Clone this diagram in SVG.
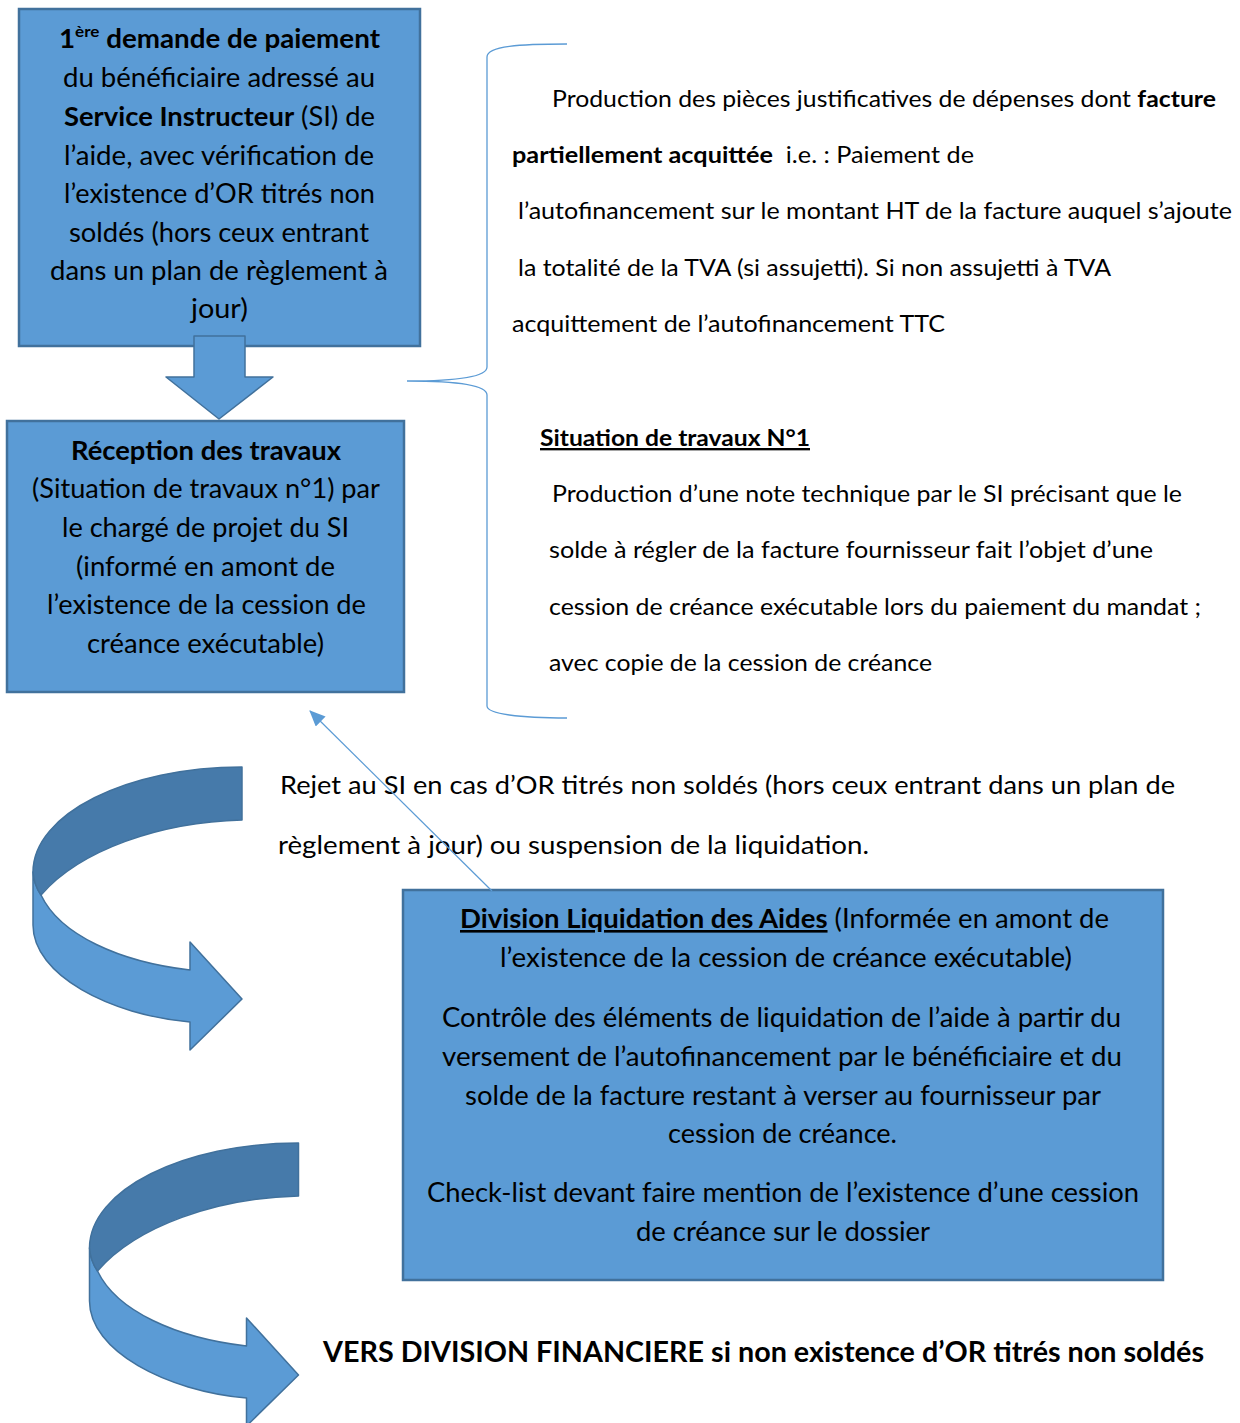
<svg xmlns="http://www.w3.org/2000/svg" xmlns:xlink="http://www.w3.org/1999/xlink" width="1240" height="1423" viewBox="0 0 1240 1423">
<style>
text{font-family:Lato,"Liberation Sans",sans-serif;fill:#000}
.box{fill:#5B9BD5;stroke:#41719C;stroke-width:2.5}
.bt{font-size:26px}
.rt{font-size:23.5px}
.jt{font-size:25.5px}
.ft{font-size:28px}
.b{font-weight:bold}
.u{text-decoration:underline}
.light{fill:#5B9BD5;stroke:#41719C;stroke-width:1.5;stroke-linejoin:round}
.dark{fill:#467AAA;stroke:#41719C;stroke-width:1.5;stroke-linejoin:round}
.thin{fill:none;stroke:#5B9BD5;stroke-width:1.3}
</style>
<defs>
<g id="curvedArrow">
<path class="light" d="M33,872 L33,925 C33,975 110,1015 190,1022 L190,1050 L242,999 L190,942 L190,970 C120,962 60,935 41,895 Q34,885 33,872 Z"/>
<path class="dark" d="M242,767 C127,767 33,814 33,872 Q34,885 41,895 C80,850 160,822 242,820 Z"/>
</g>
<marker id="ah" markerUnits="userSpaceOnUse" markerWidth="16" markerHeight="14" refX="15" refY="7" orient="auto">
<path d="M0,0 L16,7 L0,14 Z" fill="#5B9BD5"/>
</marker>
</defs>
<rect width="1240" height="1423" fill="#fff"/>

<g id="node-demande">
<rect class="box" x="19" y="9" width="401" height="337"/>
<text class="bt" x="59" y="48" textLength="321" lengthAdjust="spacingAndGlyphs"><tspan class="b">1</tspan><tspan class="b" font-size="16" dy="-11">ère</tspan><tspan class="b" dy="11"> demande de paiement</tspan></text>
<text class="bt" x="63" y="87" textLength="312" lengthAdjust="spacingAndGlyphs">du bénéficiaire adressé au</text>
<text class="bt" x="64" y="126" textLength="311" lengthAdjust="spacingAndGlyphs"><tspan class="b">Service Instructeur</tspan> (SI) de</text>
<text class="bt" x="64" y="165" textLength="310" lengthAdjust="spacingAndGlyphs">l’aide, avec vérification de</text>
<text class="bt" x="64" y="203" textLength="311" lengthAdjust="spacingAndGlyphs">l’existence d’OR titrés non</text>
<text class="bt" x="69" y="242" textLength="300" lengthAdjust="spacingAndGlyphs">soldés (hors ceux entrant</text>
<text class="bt" x="50" y="280" textLength="338" lengthAdjust="spacingAndGlyphs">dans un plan de règlement à</text>
<text class="bt" x="191" y="318" textLength="57" lengthAdjust="spacingAndGlyphs">jour)</text>
</g>

<g id="node-reception">
<rect class="box" x="7" y="421" width="397" height="271"/>
<text class="bt b" x="71" y="460" textLength="270" lengthAdjust="spacingAndGlyphs">Réception des travaux</text>
<text class="bt" x="32" y="498" textLength="348" lengthAdjust="spacingAndGlyphs">(Situation de travaux n°1) par</text>
<text class="bt" x="62" y="537" textLength="287" lengthAdjust="spacingAndGlyphs">le chargé de projet du SI</text>
<text class="bt" x="76" y="576" textLength="259" lengthAdjust="spacingAndGlyphs">(informé en amont de</text>
<text class="bt" x="47" y="614" textLength="319" lengthAdjust="spacingAndGlyphs">l’existence de la cession de</text>
<text class="bt" x="87" y="653" textLength="237" lengthAdjust="spacingAndGlyphs">créance exécutable)</text>
</g>

<g id="note-pieces">
<text class="rt" x="552" y="107" textLength="664" lengthAdjust="spacingAndGlyphs">Production des pièces justificatives de dépenses dont <tspan class="b">facture</tspan></text>
<text class="rt" x="512" y="163" textLength="462" lengthAdjust="spacingAndGlyphs"><tspan class="b">partiellement acquittée</tspan><tspan dx="6"> i.e. : Paiement de</tspan></text>
<text class="rt" x="518" y="219" textLength="714" lengthAdjust="spacingAndGlyphs">l’autofinancement sur le montant HT de la facture auquel s’ajoute</text>
<text class="rt" x="518" y="276" textLength="593" lengthAdjust="spacingAndGlyphs">la totalité de la TVA (si assujetti). Si non assujetti à TVA</text>
<text class="rt" x="512" y="332" textLength="433" lengthAdjust="spacingAndGlyphs">acquittement de l’autofinancement TTC</text>
<text class="rt b u" x="540" y="446" textLength="270" lengthAdjust="spacingAndGlyphs">Situation de travaux N°1</text>
<text class="rt" x="552" y="502" textLength="630" lengthAdjust="spacingAndGlyphs">Production d’une note technique par le SI précisant que le</text>
<text class="rt" x="549" y="558" textLength="604" lengthAdjust="spacingAndGlyphs">solde à régler de la facture fournisseur fait l’objet d’une</text>
<text class="rt" x="549" y="615" textLength="652" lengthAdjust="spacingAndGlyphs">cession de créance exécutable lors du paiement du mandat ;</text>
<text class="rt" x="549" y="671" textLength="383" lengthAdjust="spacingAndGlyphs">avec copie de la cession de créance</text>
</g>

<g id="note-rejet">
<text class="jt" x="280" y="794" textLength="895" lengthAdjust="spacingAndGlyphs">Rejet au SI en cas d’OR titrés non soldés (hors ceux entrant dans un plan de</text>
<text class="jt" x="278" y="854" textLength="591" lengthAdjust="spacingAndGlyphs">règlement à jour) ou suspension de la liquidation.</text>
</g>

<g id="node-division">
<rect class="box" x="403" y="890" width="760" height="390"/>
<text class="bt" x="460" y="928" textLength="649" lengthAdjust="spacingAndGlyphs"><tspan class="b u">Division Liquidation des Aides</tspan> (Informée en amont de</text>
<text class="bt" x="500" y="967" textLength="572" lengthAdjust="spacingAndGlyphs">l’existence de la cession de créance exécutable)</text>
<text class="bt" x="442" y="1027" textLength="679" lengthAdjust="spacingAndGlyphs">Contrôle des éléments de liquidation de l’aide à partir du</text>
<text class="bt" x="442" y="1066" textLength="680" lengthAdjust="spacingAndGlyphs">versement de l’autofinancement par le bénéficiaire et du</text>
<text class="bt" x="465" y="1105" textLength="636" lengthAdjust="spacingAndGlyphs">solde de la facture restant à verser au fournisseur par</text>
<text class="bt" x="668" y="1143" textLength="229" lengthAdjust="spacingAndGlyphs">cession de créance.</text>
<text class="bt" x="427" y="1202" textLength="712" lengthAdjust="spacingAndGlyphs">Check-list devant faire mention de l’existence d’une cession</text>
<text class="bt" x="636" y="1241" textLength="294" lengthAdjust="spacingAndGlyphs">de créance sur le dossier</text>
</g>

<g id="node-financiere">
<text class="ft b" x="323" y="1362" textLength="881" lengthAdjust="spacingAndGlyphs">VERS DIVISION FINANCIERE si non existence d’OR titrés non soldés</text>
</g>

<g id="connectors">
<path id="down-arrow" class="light" d="M194,336 L245,336 L245,377 L273,377 L219,419 L166,377 L194,377 Z"/>
<path id="brace" class="thin" d="M567,44 C520,44 487,46 487,57 L487,367 C487,377 455,381 407,381 C455,381 487,385 487,395 L487,706 C487,714 520,718 567,718"/>
<line id="reject-arrow" x1="492" y1="891" x2="310" y2="711" stroke="#5B9BD5" stroke-width="1.2" marker-end="url(#ah)"/>
<use id="curved-arrow-1" xlink:href="#curvedArrow"/>
<use id="curved-arrow-2" xlink:href="#curvedArrow" transform="translate(56.5,376)"/>
</g>
</svg>
